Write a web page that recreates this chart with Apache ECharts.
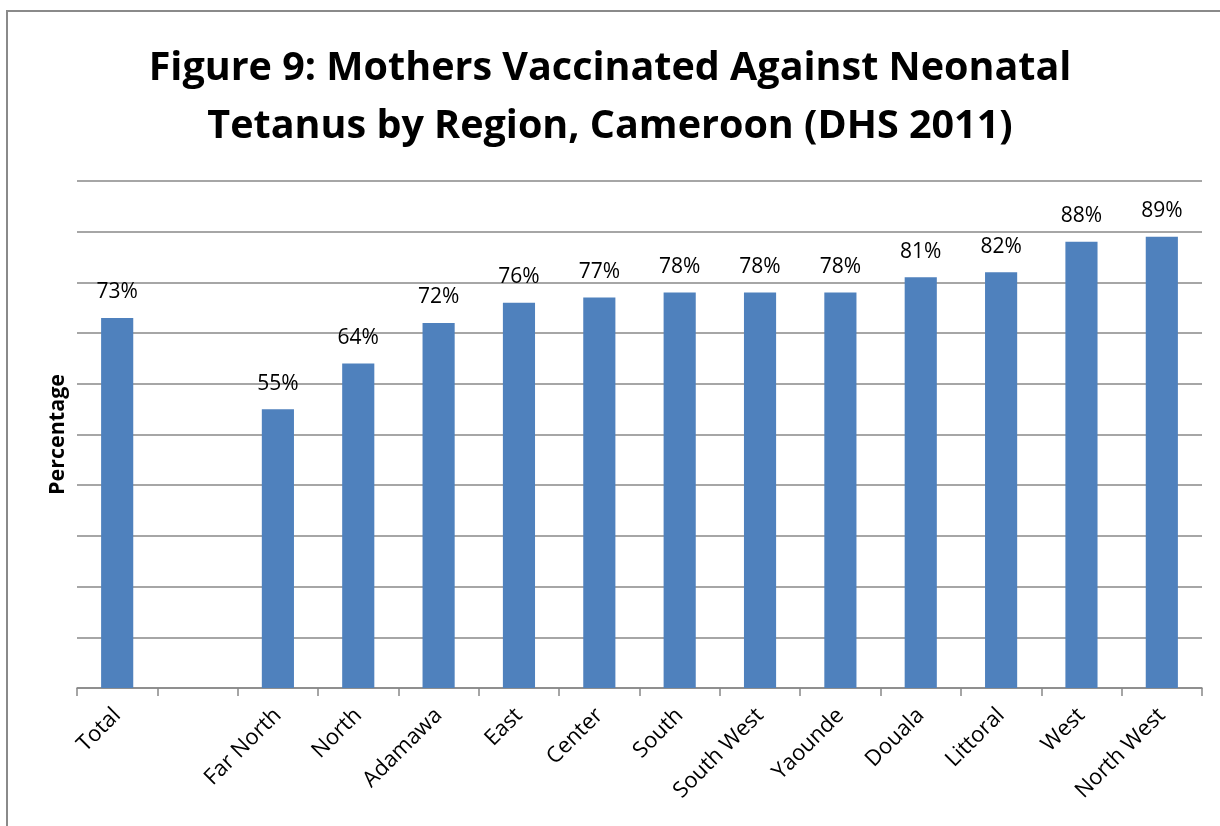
<!DOCTYPE html>
<html>
<head>
<meta charset="utf-8">
<script src="https://cdn.jsdelivr.net/npm/echarts@6/dist/echarts.min.js"></script>
<style>
  html, body { margin: 0; padding: 0; background: #fff; }
  #chart { width: 1220px; height: 826px; }
</style>
</head>
<body>
<div id="chart"></div>
<script>
// Regions (an empty slot separates the national total from the regions)
const regions = ['Total', '', 'Far North', 'North', 'Adamawa', 'East', 'Center', 'South',
  'South West', 'Yaounde', 'Douala', 'Littoral', 'West', 'North West'];
// Percentage of mothers vaccinated against neonatal tetanus
const vaccinated = [73, null, 55, 64, 72, 76, 77, 78, 78, 78, 81, 82, 88, 89];
const titleLines = ['Figure 9: Mothers Vaccinated Against Neonatal', 'Tetanus by Region, Cameroon (DHS 2011)'];

const FONT = '"Open Sans", "Noto Sans", sans-serif';
const chart = echarts.init(document.getElementById('chart'));

chart.setOption({
  backgroundColor: '#ffffff',
  animation: false,
  title: {
    text: titleLines.join('\n'),
    left: 'center',
    top: 35,
    textStyle: {
      fontFamily: FONT,
      fontWeight: 'bold',
      fontSize: 39.5,
      lineHeight: 58,
      color: '#000'
    }
  },
  graphic: [{
    type: 'rect',
    shape: { x: 7, y: 11, width: 1300, height: 900 },
    style: { fill: 'none', stroke: '#8a8a8a', lineWidth: 2 },
    silent: true
  }],
  grid: { left: 77, right: 18, top: 181, height: 507 },
  xAxis: {
    type: 'category',
    data: regions,
    axisLine: { lineStyle: { color: '#888', width: 1.5 } },
    axisTick: { show: true, length: 8, lineStyle: { color: '#888', width: 1.5 } },
    axisLabel: {
      interval: 0,
      rotate: 45,
      margin: 24,
      fontFamily: FONT,
      fontSize: 22,
      color: '#000'
    }
  },
  yAxis: {
    type: 'value',
    min: 0,
    max: 100,
    interval: 10,
    name: 'Percentage',
    nameLocation: 'middle',
    nameGap: 8,
    nameTextStyle: { fontFamily: FONT, fontWeight: 'bold', fontSize: 21.5, color: '#000' },
    axisLine: { show: false },
    axisTick: { show: false },
    axisLabel: { show: false },
    splitLine: { lineStyle: { color: '#888', width: 1.5 } }
  },
  series: [{
    type: 'bar',
    data: vaccinated,
    barWidth: '40%',
    itemStyle: { color: '#4F81BD' },
    label: {
      show: true,
      position: 'top',
      distance: 15,
      formatter: '{c}%',
      fontFamily: FONT,
      fontSize: 21,
      color: '#000'
    }
  }]
});
</script>
</body>
</html>
